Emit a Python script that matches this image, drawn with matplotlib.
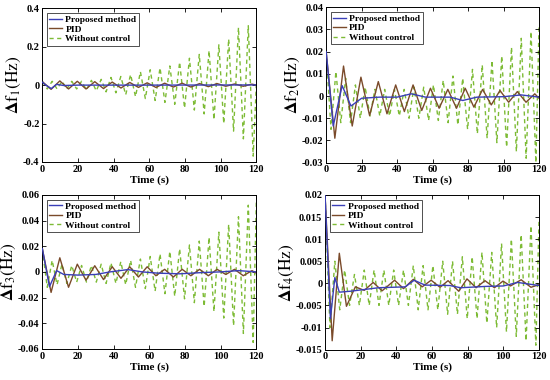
import matplotlib
matplotlib.use('Agg')
import matplotlib.pyplot as plt

plt.rcParams['font.family'] = 'Liberation Serif'
plt.rcParams['mathtext.fontset'] = 'stix'

# extrema of the curves
green_t = [0, 2.75, 5.5, 8.25, 11, 13.75, 16.5, 19.25, 22, 24.75, 27.5, 30.25, 33, 35.75,
           38.5, 41.25, 44, 46.75, 49.5, 52.25, 55, 57.75, 60.5, 63.25, 66, 68.75, 71.5,
           74.25, 77, 79.75, 82.5, 85.25, 88, 90.75, 93.5, 96.25, 99, 101.75, 104.5,
           107.25, 110, 112.75, 115.5, 118.25, 120]
pid_t = [0, 4.9, 9.8, 14.7, 19.6, 24.5, 29.4, 34.3, 39.2, 44.1, 49, 53.9, 58.8, 63.7,
         68.6, 73.5, 78.4, 83.3, 88.2, 93.1, 98, 102.9, 107.8, 112.7, 117.6, 120]

# panel 1
prop1_t = [0, 2, 5, 8, 12, 20, 60, 120]
prop1_v = [0.015, 0.0, -0.018, 0.004, -0.002, 0.0, 0.0, 0.001]
pid1_v = [0.018, -0.022, 0.022, -0.02, 0.02, -0.02, 0.018, -0.018, 0.016, -0.015, 0.014,
          -0.012, 0.012, -0.012, 0.01, -0.01, 0.01, -0.01, 0.008, -0.008, 0.008, -0.006,
          0.006, -0.006, 0.005, 0.0]
green1_v = [0.02, -0.02, 0.02, -0.02, 0.02, -0.02, 0.02, -0.02, 0.02, -0.025, 0.025, -0.03,
            0.03, -0.035, 0.04, -0.04, 0.045, -0.05, 0.055, -0.06, 0.07, -0.07, 0.08, -0.08,
            0.09, -0.09, 0.1, -0.1, 0.12, -0.12, 0.14, -0.13, 0.16, -0.15, 0.18, -0.18,
            0.21, -0.2, 0.24, -0.24, 0.3, -0.28, 0.31, -0.37, 0.0]

# panel 2
prop2_t = [0, 4, 9, 14, 20, 30, 40, 48, 56, 70, 77, 85, 100, 110, 120]
prop2_v = [0.02, -0.0135, 0.0047, -0.0045, -0.001, -0.0005, -0.0005, 0.001, -0.0005,
           -0.0005, -0.002, -0.0005, -0.0003, 0.0005, -0.0005]
pid2_v = [0.02, -0.019, 0.0135, -0.0135, 0.0085, -0.0088, 0.0065, -0.008, 0.005, -0.007,
          0.005, -0.0065, 0.0035, -0.0055, 0.003, -0.0055, 0.0035, -0.005, 0.003, -0.004,
          0.0025, -0.0028, 0.002, -0.0028, 0.001, -0.001]
green2_v = [0.02, -0.015, 0.011, -0.012, 0.008, -0.012, 0.005, -0.01, 0.004, -0.009, 0.003,
            -0.009, 0.003, -0.009, 0.003, -0.009, 0.003, -0.01, 0.004, -0.01, 0.004, -0.011,
            0.005, -0.011, 0.007, -0.012, 0.009, -0.013, 0.008, -0.015, 0.012, -0.017, 0.014,
            -0.019, 0.016, -0.021, 0.018, -0.023, 0.022, -0.025, 0.026, -0.028, 0.029, -0.03,
            0.031]

# panel 3
prop3_t = [0, 4, 8, 12, 20, 30, 38, 48, 56, 65, 77, 90, 100, 110, 120]
prop3_v = [0.018, -0.0115, 0.001, -0.002, -0.0025, -0.002, 0.0, 0.0018, 0.0, -0.001,
           -0.0015, -0.0005, 0.0, 0.001, 0.0]
pid3_v = [0.018, -0.016, 0.011, -0.012, 0.006, -0.0065, 0.0048, -0.006, 0.004, -0.005, 0.004,
          -0.004, 0.004, -0.003, 0.002, -0.004, 0.002, -0.003, 0.002, -0.003, 0.002, -0.002,
          0.002, -0.003, 0.001, -0.001]
green3_v = [0.018, -0.012, 0.009, -0.01, 0.006, -0.009, 0.005, -0.008, 0.005, -0.008, 0.005,
            -0.008, 0.006, -0.009, 0.007, -0.009, 0.008, -0.01, 0.009, -0.012, 0.01, -0.013,
            0.012, -0.015, 0.014, -0.017, 0.016, -0.019, 0.018, -0.021, 0.021, -0.024, 0.024,
            -0.027, 0.027, -0.031, 0.031, -0.036, 0.037, -0.042, 0.043, -0.048, 0.052, -0.055,
            0.054]

# panel 4
prop4_t = [0, 3, 5.5, 8, 14, 20, 30, 45, 50, 56, 70, 76, 90, 100, 108, 120]
prop4_v = [0.02, -0.008, 0.0013, -0.002, -0.0018, -0.0015, -0.001, -0.0008, 0.0007, -0.0004,
           -0.0005, -0.001, -0.0007, -0.0006, 0.0002, -0.0005]
pid4_t = [0, 4, 8, 12, 17, 22, 27, 32, 39, 44, 49.5, 54.5, 59.5, 64.5, 69, 75, 79.6, 84.7,
          89.7, 95, 99.8, 104, 110, 115.5, 120]
pid4_v = [0.02, -0.013, 0.0068, -0.0052, -0.0008, -0.0016, 0.0002, -0.0017, 0.0007, -0.0012,
          0.0009, -0.0008, 0.0007, -0.0009, 0.0006, -0.0018, 0.001, -0.001, 0.0006, -0.001,
          0.0005, -0.0006, 0.0008, -0.0009, -0.0003]
green4_v = [0.02, -0.01, 0.005, -0.006, 0.003, -0.005, 0.002, -0.005, 0.003, -0.005, 0.003,
            -0.005, 0.003, -0.005, 0.003, -0.005, 0.003, -0.005, 0.004, -0.006, 0.004, -0.006,
            0.004, -0.006, 0.005, -0.007, 0.005, -0.007, 0.006, -0.008, 0.006, -0.008, 0.007,
            -0.009, 0.007, -0.01, 0.009, -0.011, 0.01, -0.012, 0.011, -0.013, 0.013, -0.014,
            0.014]

panels = [
    (prop1_t, prop1_v, pid_t, pid1_v, green1_v, (-0.4, 0.4), [-0.4, -0.2, 0, 0.2, 0.4], ['-0.4', '-0.2', '0', '0.2', '0.4'], '1'),
    (prop2_t, prop2_v, pid_t, pid2_v, green2_v, (-0.03, 0.04), [-0.03, -0.02, -0.01, 0, 0.01, 0.02, 0.03, 0.04],
     ['-0.03', '-0.02', '-0.01', '0', '0.01', '0.02', '0.03', '0.04'], '2'),
    (prop3_t, prop3_v, pid_t, pid3_v, green3_v, (-0.06, 0.06), [-0.06, -0.04, -0.02, 0, 0.02, 0.04, 0.06],
     ['-0.06', '-0.04', '-0.02', '0', '0.02', '0.04', '0.06'], '3'),
    (prop4_t, prop4_v, pid4_t, pid4_v, green4_v, (-0.015, 0.02), [-0.015, -0.01, -0.005, 0, 0.005, 0.01, 0.015, 0.02],
     ['-0.015', '-0.01', '-0.005', '0', '0.005', '0.01', '0.015', '0.02'], '4'),
]

positions = [[0.077, 0.574, 0.389, 0.404], [0.593, 0.572, 0.387, 0.409],
             [0.077, 0.082, 0.389, 0.405], [0.591, 0.080, 0.389, 0.407]]

fig = plt.figure(figsize=(5.5, 3.8), dpi=100)

for pos, (pt, pv, it, iv, gv, ylim, yt, ytl, k) in zip(positions, panels):
    ax = fig.add_axes(pos)
    ax.plot(pt, pv, color='#3a3fb8', lw=1.0, label='Proposed method', zorder=3)
    ax.plot(it, iv, color='#7a4a2a', lw=1.0, label='PID', zorder=2)
    ax.plot(green_t, gv, color='#7dbb35', lw=1.0, ls=(0, (3, 2.5)), label='Without control', zorder=1)
    ax.set_xlim(0, 120)
    ax.set_ylim(*ylim)
    ax.set_xticks([0, 20, 40, 60, 80, 100, 120])
    ax.set_xticklabels(['0', '20', '40', '60', '80', '100', '120'], fontweight='bold')
    ax.set_yticks(yt)
    ax.set_yticklabels(ytl, fontweight='bold')
    ax.tick_params(direction='in', top=True, right=True, labelsize=7.5, length=3, width=0.6, pad=2)
    for s in ax.spines.values():
        s.set_linewidth(0.7)
    ax.set_xlabel('Time (s)', fontsize=8, fontweight='bold', labelpad=1)
    ax.set_ylabel(r'$\mathbf{\Delta}\mathrm{f}_{' + k + r'}\mathrm{(Hz)}$', fontsize=12.5,
                  fontweight='normal', labelpad=0)
    leg = ax.legend(loc='upper left', fontsize=6.8, frameon=True, fancybox=False, edgecolor='black',
                    handlelength=1.3, handletextpad=0.4, borderpad=0.25, labelspacing=0.1,
                    borderaxespad=0.5)
    leg.get_frame().set_linewidth(0.6)
    for t in leg.get_texts():
        t.set_fontweight('bold')

fig.savefig('out.png', dpi=100)
